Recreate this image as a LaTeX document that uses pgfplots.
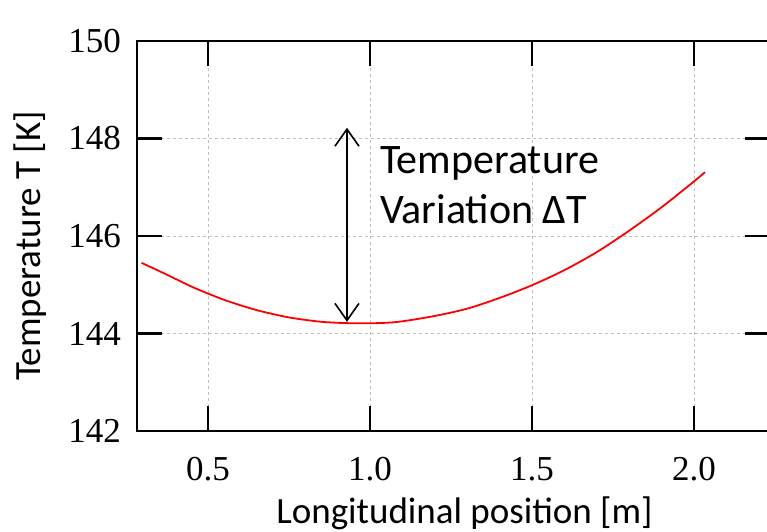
\documentclass[border=0pt]{standalone}
\usepackage{fontspec}
\setmainfont{Liberation Serif}
\newfontfamily\carlito{Carlito}
\usepackage{pgfplots}
\pgfplotsset{compat=1.18}
\usetikzlibrary{arrows.meta}
\begin{document}
\begin{tikzpicture}[x=1pt,y=1pt]
\begin{axis}[
  at={(0,0)}, anchor=south west,
  scale only axis, width=633pt, height=390pt,
  xmin=0.281, xmax=2.2346, ymin=142, ymax=150,
  xtick={0.5,1,1.5,2}, ytick={142,144,146,148,150},
  /pgf/number format/assume math mode=true,
  xticklabel style={/pgf/number format/fixed, /pgf/number format/fixed zerofill, /pgf/number format/precision=1, inner sep=0pt, yshift=-26pt, font=\rmfamily\fontsize{35}{40}\selectfont},
  yticklabel style={inner sep=0pt, xshift=-16pt, font=\rmfamily\fontsize{35}{40}\selectfont},
  tick align=inside,
  major tick length=25pt,
  tick style={line width=2.3pt, black},
  axis line style={line width=2pt, black},
  grid=major,
  major grid style={black!25, line width=0.8pt, dash pattern=on 3pt off 3pt},
  xlabel={Longitudinal position [m]},
  ylabel={Temperature T [K]},
  xlabel style={font=\carlito\fontsize{37}{44}\selectfont, at={(axis description cs:0.5,0)}, anchor=base, yshift=-92pt, xshift=11pt},
  ylabel style={font=\carlito\fontsize{37}{44}\selectfont, at={(axis description cs:-0.1517,0.474)}, anchor=base},
]
\addplot[red, line width=1.8pt, smooth] coordinates {
(0.295,145.45) (0.35,145.28) (0.40,145.12) (0.45,144.96) (0.50,144.82)
(0.55,144.69) (0.60,144.58) (0.65,144.48) (0.70,144.40) (0.75,144.33)
(0.80,144.28) (0.85,144.24) (0.90,144.22) (0.95,144.21) (1.00,144.21)
(1.05,144.22) (1.10,144.25) (1.20,144.36) (1.30,144.51) (1.40,144.73)
(1.50,144.99) (1.60,145.30) (1.70,145.67) (1.80,146.11) (1.90,146.59)
(2.00,147.12) (2.034,147.31)
};
\draw[line width=1.6pt, {Straight Barb[length=17pt,width=24pt,line width=1.6pt]}-{Straight Barb[length=17pt,width=24pt,line width=1.6pt]}]
  (axis cs:0.929,144.24) -- (axis cs:0.929,148.22);
\node[anchor=base west, inner sep=0pt, font=\carlito\fontsize{42}{48}\selectfont] at (axis cs:1.031,147.29) {Temperature};
\node[anchor=base west, inner sep=0pt, font=\carlito\fontsize{42}{48}\selectfont] at (axis cs:1.031,146.25) {Variation ΔT};
\end{axis}
\pgfresetboundingbox
\path[use as bounding box] (-137,-100) rectangle (630,431);
\end{tikzpicture}
\end{document}
